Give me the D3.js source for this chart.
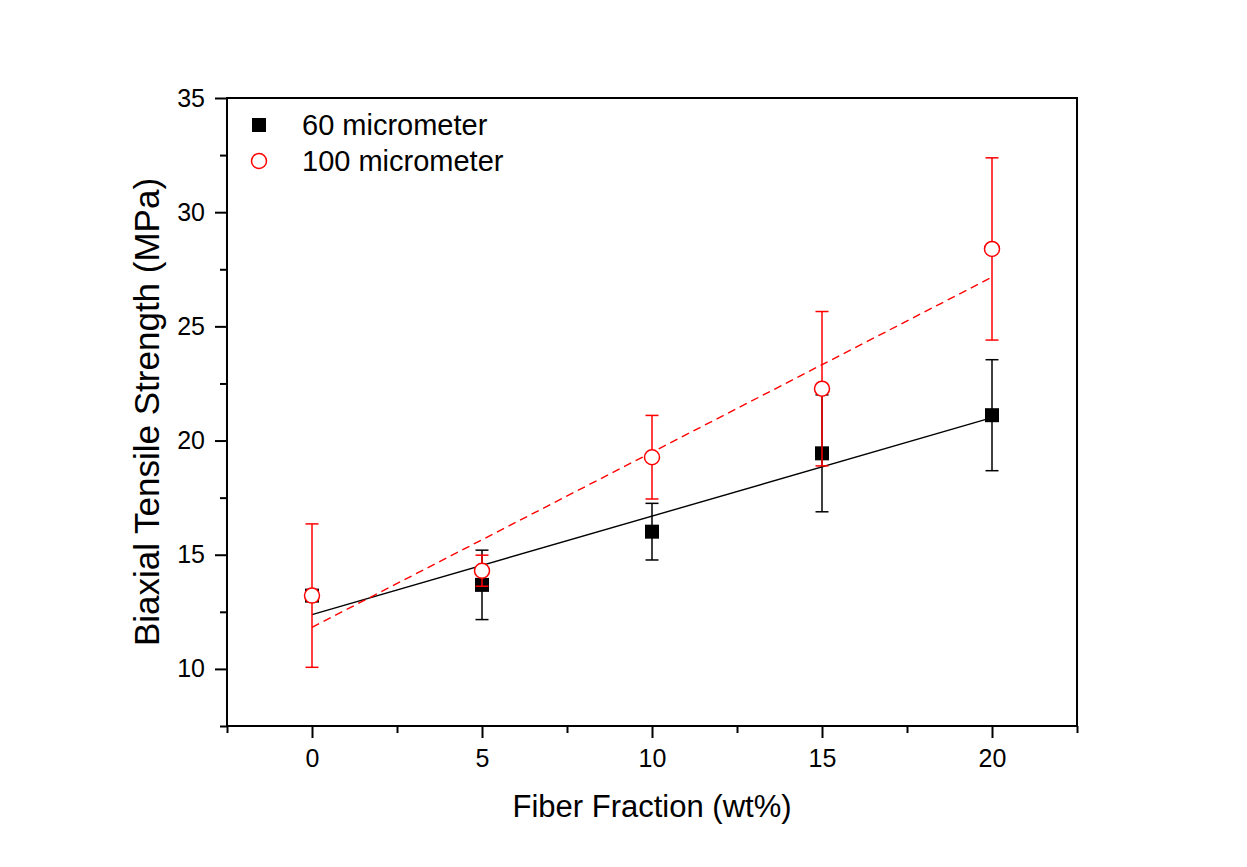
<!DOCTYPE html>
<html>
<head>
<meta charset="utf-8">
<script src="https://cdn.jsdelivr.net/npm/d3@7"></script>
<style>
  html, body { margin: 0; padding: 0; background: #fff; }
  svg { display: block; font-family: Arial, "Liberation Sans", sans-serif; }
</style>
</head>
<body>
<svg id="chart" width="1247" height="867"></svg>
<script>
// ---- data ----
const fiberFraction = [0, 5, 10, 15, 20];
const seriesNames = ["60 micrometer", "100 micrometer"];
const strength60 = [13.21, 13.68, 16.01, 19.44, 21.11];
const error60 = [0.25, 1.52, 1.24, 2.56, 2.43];
const strength100 = [13.21, 14.30, 19.27, 22.27, 28.39];
const error100 = [3.14, 0.68, 1.83, 3.38, 3.99];
const xMajorTicks = [0, 5, 10, 15, 20];
const xMinorTicks = [-2.5, 2.5, 7.5, 12.5, 17.5, 22.5];
const yMajorTicks = [10, 15, 20, 25, 30, 35];
const yMinorTicks = [7.5, 12.5, 17.5, 22.5, 27.5, 32.5];
const xTitle = "Fiber Fraction (wt%)";
const yTitle = "Biaxial Tensile Strength (MPa)";

// ---- layout ----
const svg = d3.select("#chart");
const L = 227, R = 1077, T = 98, B = 726;
const x = d3.scaleLinear().domain([-2.5, 22.5]).range([L, R]);
const y = d3.scaleLinear().domain([7.5, 35]).range([B, T]);

svg.append("rect").attr("width", 1247).attr("height", 867).attr("fill", "#fff");

function linFit(xs, ys) {
  const n = xs.length;
  const mx = d3.mean(xs), my = d3.mean(ys);
  let sxy = 0, sxx = 0;
  for (let i = 0; i < n; i++) { sxy += (xs[i]-mx)*(ys[i]-my); sxx += (xs[i]-mx)**2; }
  const b = sxy / sxx;
  return { a: my - b*mx, b };
}

const series = [
  { name: seriesNames[0], vals: strength60, errs: error60, color: "#000", marker: "square", dash: null },
  { name: seriesNames[1], vals: strength100, errs: error100, color: "#ff0000", marker: "circle", dash: "8,5" }
];

const plot = svg.append("g");

// fit lines
series.forEach(s => {
  const f = linFit(fiberFraction, s.vals);
  const x0 = d3.min(fiberFraction), x1 = d3.max(fiberFraction);
  plot.append("line")
    .attr("x1", x(x0)).attr("y1", y(f.a + f.b*x0))
    .attr("x2", x(x1)).attr("y2", y(f.a + f.b*x1))
    .attr("stroke", s.color).attr("stroke-width", 1.4)
    .attr("stroke-dasharray", s.dash);
});

// error bars + markers
const capW = 13;
series.forEach(s => {
  const g = plot.append("g");
  fiberFraction.forEach((fx, i) => {
    const cx = x(fx), top = y(s.vals[i] + s.errs[i]), bot = y(s.vals[i] - s.errs[i]);
    g.append("line").attr("x1", cx).attr("x2", cx).attr("y1", top).attr("y2", bot)
      .attr("stroke", s.color).attr("stroke-width", 1.5);
    [top, bot].forEach(yy => g.append("line")
      .attr("x1", cx - capW/2).attr("x2", cx + capW/2).attr("y1", yy).attr("y2", yy)
      .attr("stroke", s.color).attr("stroke-width", 1.5));
  });
  fiberFraction.forEach((fx, i) => {
    const cx = x(fx), cy = y(s.vals[i]);
    if (s.marker === "square") {
      g.append("rect").attr("x", cx - 7).attr("y", cy - 7).attr("width", 14).attr("height", 14)
        .attr("fill", "#000");
    } else {
      g.append("circle").attr("cx", cx).attr("cy", cy).attr("r", 7.5)
        .attr("fill", "#fff").attr("stroke", s.color).attr("stroke-width", 1.5);
    }
  });
});

// axes
const xAxis = svg.append("g").attr("transform", `translate(0,${B})`)
  .call(d3.axisBottom(x).tickValues(xMajorTicks).tickSize(12).tickPadding(11).tickFormat(d3.format("d")));
svg.append("g").attr("transform", `translate(0,${B})`)
  .call(d3.axisBottom(x).tickValues(xMinorTicks).tickSize(7).tickFormat(""));
const yAxis = svg.append("g").attr("transform", `translate(${L},0)`)
  .call(d3.axisLeft(y).tickValues(yMajorTicks).tickSize(12).tickPadding(10).tickFormat(d3.format("d")));
svg.append("g").attr("transform", `translate(${L},0)`)
  .call(d3.axisLeft(y).tickValues(yMinorTicks).tickSize(7).tickFormat(""));

svg.selectAll(".domain").remove();
svg.selectAll(".tick line").attr("stroke", "#000").attr("stroke-width", 2);
[xAxis, yAxis].forEach(a => a.attr("font-size", 25).attr("font-family", "Arial, 'Liberation Sans', sans-serif"));
xAxis.selectAll(".tick text").attr("font-size", 25).attr("fill", "#000");
yAxis.selectAll(".tick text").attr("font-size", 25).attr("fill", "#000");

// frame
svg.append("rect").attr("x", L).attr("y", T).attr("width", R - L).attr("height", B - T)
  .attr("fill", "none").attr("stroke", "#000").attr("stroke-width", 2);

// titles
svg.append("text").attr("x", (L + R) / 2).attr("y", 817).attr("text-anchor", "middle")
  .attr("font-size", 31).attr("fill", "#000").text(xTitle);
svg.append("text").attr("transform", `translate(159,${(T + B) / 2}) rotate(-90)`)
  .attr("text-anchor", "middle").attr("font-size", 35).attr("fill", "#000").text(yTitle);

// legend
const leg = svg.append("g");
series.forEach((s, i) => {
  const ly = 125 + i * 36;
  if (s.marker === "square") {
    leg.append("rect").attr("x", 259 - 7).attr("y", ly - 7).attr("width", 14).attr("height", 14).attr("fill", "#000");
  } else {
    leg.append("circle").attr("cx", 259).attr("cy", ly).attr("r", 7.5)
      .attr("fill", "#fff").attr("stroke", s.color).attr("stroke-width", 1.5);
  }
  leg.append("text").attr("x", 302).attr("y", ly + 10).attr("font-size", 29).attr("fill", "#000").text(s.name);
});
</script>
</body>
</html>
